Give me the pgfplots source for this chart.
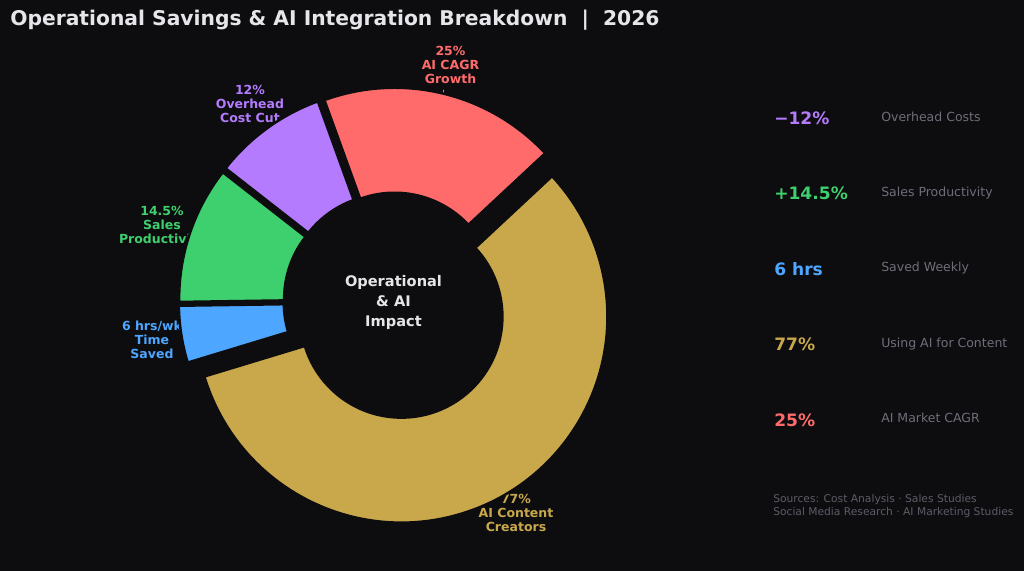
\documentclass[border=0pt]{standalone}
\usepackage{pgfplots}
\pgfplotsset{compat=1.18}
\usepackage{pgfplotstable}
\usepackage{fontspec}
\setmainfont{DejaVu Sans}
\definecolor{bg}{HTML}{0D0D0F}
\definecolor{cRed}{HTML}{FF6B6B}
\definecolor{cPurple}{HTML}{B57BFF}
\definecolor{cGreen}{HTML}{3ECF6E}
\definecolor{cBlue}{HTML}{4DA6FF}
\definecolor{cGold}{HTML}{C9A84C}
\definecolor{titlec}{HTML}{E6E6EA}
\definecolor{greyc}{HTML}{6E6E7A}
\definecolor{srcc}{HTML}{5C5C68}

% slices, counterclockwise from the start angle
\pgfplotstableread{
val expl col
25   8    cRed
12   8    cPurple
14.5 8    cGreen
6    8    cBlue
77   17.5 cGold
}\slices

\def\cx{392.7}\def\cy{269.5}
\def\Ro{148.3pt}\def\Ri{72.7pt}
\def\startang{43}

\newcommand\tlbl[6]{%
  \node[anchor=base,inner sep=0pt,text=#3,font=\bfseries\fontsize{9}{10}\selectfont] at (axis cs:#1,#2) {#4};
  \node[anchor=base,inner sep=0pt,text=#3,font=\bfseries\fontsize{9}{10}\selectfont] at (axis cs:#1,#2-14) {#5};
  \node[anchor=base,inner sep=0pt,text=#3,font=\bfseries\fontsize{9}{10}\selectfont] at (axis cs:#1,#2-28) {#6};
}
\newcommand\kpi[5]{%
  \node[anchor=base west,inner sep=0pt,text=#2,font=\bfseries\fontsize{12.3}{14}\selectfont] at (axis cs:774,#1) {#3};
  \node[anchor=base west,inner sep=0pt,text=greyc,font=\fontsize{9}{10}\selectfont] at (axis cs:881,#4) {#5};
}

\begin{document}
\begin{tikzpicture}
\gdef\tot{0}
\foreach \i in {0,...,4}{%
  \pgfplotstablegetelem{\i}{val}\of\slices
  \pgfmathsetmacro\tmpt{\tot+\pgfplotsretval}\xdef\tot{\tmpt}}
\xdef\cum{\startang}
\foreach \i in {0,...,4}{%
  \pgfplotstablegetelem{\i}{val}\of\slices \let\wv\pgfplotsretval
  \pgfplotstablegetelem{\i}{expl}\of\slices \let\we\pgfplotsretval
  \pgfplotstablegetelem{\i}{col}\of\slices \let\wc\pgfplotsretval
  \pgfmathsetmacro\wa{\cum}%
  \pgfmathsetmacro\wb{\cum+\wv/\tot*360}%
  \pgfmathsetmacro\wm{(\wa+\wb)/2}%
  \pgfmathsetmacro\wx{\cx+\we*cos(\wm)}%
  \pgfmathsetmacro\wy{\cy+\we*sin(\wm)}%
  \expandafter\xdef\csname wedge\i\endcsname{\noexpand\fill[fill=\wc,draw=bg,line width=1.8pt,line join=miter,shift={(axis cs:\wx,\wy)}] (\wa:\Ri) -- (\wa:\Ro) arc[start angle=\wa,end angle=\wb,radius=\Ro] -- (\wb:\Ri) arc[start angle=\wb,end angle=\wa,radius=\Ri] -- cycle;}%
  \xdef\cum{\wb}%
}
\begin{axis}[x=0.72pt,y=0.72pt,xmin=0,xmax=1024,ymin=0,ymax=571,
  hide axis,clip=false,anchor=origin,at={(0,0)}]
\fill[bg] (axis cs:0,0) rectangle (axis cs:1024,571);
% title
\node[anchor=base west,inner sep=0pt,text=titlec,font=\bfseries\fontsize{14.6}{16}\selectfont] at (axis cs:10,545) {Operational Savings \& AI Integration Breakdown\ \ |\ \ 2026};
% slice labels (drawn below the wedges)
\tlbl{450.5}{515.7}{cRed}{25\%}{AI CAGR}{Growth}
\draw[cRed,line width=0.7pt] (axis cs:443.6,481) -- (axis cs:443.2,476);
\tlbl{250}{476.4}{cPurple}{12\%}{Overhead}{Cost Cut}
\tlbl{162}{355.7}{cGreen}{14.5\%}{Sales}{Productivity}
\tlbl{152}{240.4}{cBlue}{6 hrs/wk}{Time}{Saved}
\tlbl{516}{67.1}{cGold}{77\%}{AI Content}{Creators}
% wedges
\csname wedge0\endcsname
\csname wedge1\endcsname
\csname wedge2\endcsname
\csname wedge3\endcsname
\csname wedge4\endcsname
% centre text
\node[anchor=base,inner sep=0pt,text=titlec,font=\bfseries\fontsize{10.5}{12}\selectfont] at (axis cs:393.5,284) {Operational};
\node[anchor=base,inner sep=0pt,text=titlec,font=\bfseries\fontsize{10.5}{12}\selectfont] at (axis cs:393.5,264) {\& AI};
\node[anchor=base,inner sep=0pt,text=titlec,font=\bfseries\fontsize{10.5}{12}\selectfont] at (axis cs:393.5,244) {Impact};
% KPI panel
\kpi{446.5}{cPurple}{−12\%}{449.8}{Overhead Costs}
\kpi{371.1}{cGreen}{+14.5\%}{374.8}{Sales Productivity}
\kpi{295.7}{cBlue}{6 hrs}{299.1}{Saved Weekly}
\kpi{220.3}{cGold}{77\%}{223.8}{Using AI for Content}
\kpi{144.9}{cRed}{25\%}{148.1}{AI Market CAGR}
\node[anchor=base west,inner sep=0pt,text=srcc,font=\fontsize{7.7}{9}\selectfont] at (axis cs:773,68.1) {Sources: Cost Analysis · Sales Studies};
\node[anchor=base west,inner sep=0pt,text=srcc,font=\fontsize{7.7}{9}\selectfont] at (axis cs:773,55.4) {Social Media Research · AI Marketing Studies};
\end{axis}
\end{tikzpicture}
\end{document}
